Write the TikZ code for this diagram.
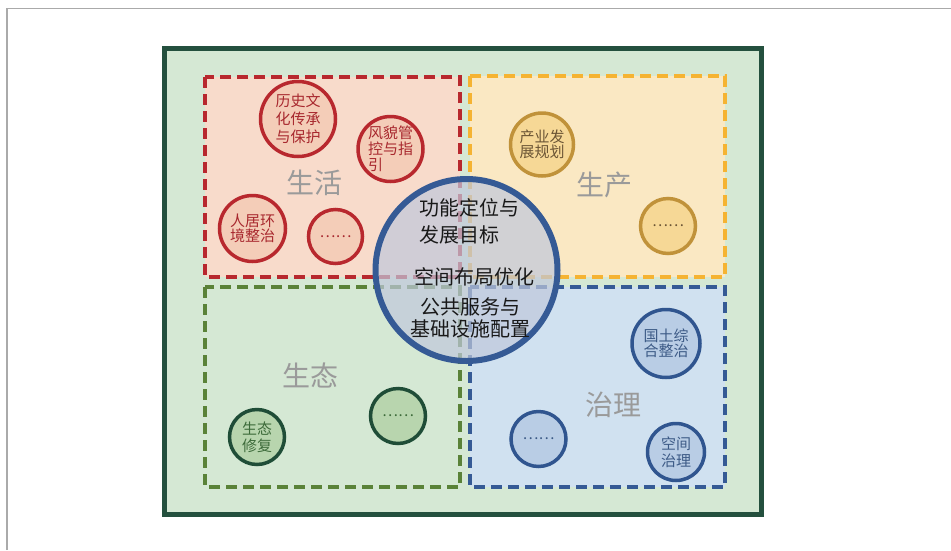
\documentclass[tikz,border=0pt]{standalone}
\usepackage{fontspec}
\setmainfont{Noto Sans CJK SC}
\definecolor{framegray}{HTML}{AAAAAA}
\definecolor{outerG}{HTML}{24503E}
\definecolor{bgG}{HTML}{D5E8D4}
\definecolor{redL}{HTML}{B8282E}
\definecolor{redF}{HTML}{F8DBCB}
\definecolor{redC}{HTML}{F4CDB8}
\definecolor{redT}{HTML}{A8282E}
\definecolor{orL}{HTML}{F5B332}
\definecolor{orF}{HTML}{FAE8C3}
\definecolor{orC}{HTML}{F6D896}
\definecolor{orS}{HTML}{C0923A}
\definecolor{orT}{HTML}{6B5535}
\definecolor{grL}{HTML}{5A8238}
\definecolor{grC}{HTML}{B8D5AE}
\definecolor{grS}{HTML}{1F4D37}
\definecolor{grT}{HTML}{3D6B3A}
\definecolor{blL}{HTML}{355A95}
\definecolor{blF}{HTML}{D0E1F0}
\definecolor{blC}{HTML}{B9CDE5}
\definecolor{blS}{HTML}{30558F}
\definecolor{blT}{HTML}{3C5A86}
\definecolor{coreF}{HTML}{C0C8DC}
\definecolor{labG}{HTML}{9A9A9A}
\begin{document}
\begin{tikzpicture}[x=1pt,y=-1pt,
  zone/.style={line width=4.2pt, dash pattern=on 11pt off 6pt},
  item/.style={circle, inner sep=0pt, line width=3.5pt, align=center,
    font=\fontsize{15}{16}\selectfont},
  reditem/.style={item, draw=redL, fill=redC, text=redT},
  oritem/.style={item, draw=orS, fill=orC, text=orT},
  gritem/.style={item, draw=grS, fill=grC, text=grT},
  blitem/.style={item, draw=blS, fill=blC, text=blT},
  zonelabel/.style={text=labG, font=\fontsize{28}{30}\selectfont, inner sep=0pt},
  coretext/.style={text=black!90, inner sep=0pt, font=\fontsize{20}{22}\selectfont}]
\useasboundingbox (0,0) rectangle (951,550);
\fill[white] (0,0) rectangle (951,550);
\draw[framegray, line width=1.2pt] (7,550) -- (7,8.5) -- (951,8.5);
% outer frame
\draw[line width=5pt, draw=outerG, fill=bgG] (164.8,48.5) rectangle (761,514.5);
% zones
\draw[zone, draw=redL, fill=redF] (205,77) rectangle (460,277);
\draw[zone, draw=orL, fill=orF] (470,76) rectangle (725,277);
\draw[zone, draw=grL, fill=bgG] (205,287) rectangle (460,487);
\draw[zone, draw=blL, fill=blF] (470,287) rectangle (725,487);
% zone labels
\node[zonelabel] (lsh) at (314,183) {生活};
\node[zonelabel] (lsc) at (604.5,185) {生产};
\node[zonelabel] (lst) at (310,375) {生态};
\node[zonelabel] (lzl) at (613,405) {治理};
% red items
\node[reditem, minimum size=75pt, font=\fontsize{15}{18}\selectfont] (hist) at (298,119) {历史文\\化传承\\与保护};
\node[reditem, minimum size=65pt, align=left] (fmg) at (390.5,149) {风貌管\\控与指\\引};
\node[reditem, minimum size=66pt, font=\fontsize{15}{15.5}\selectfont] (rjhj) at (252.5,228.5) {人居环\\境整治};
\node[reditem, minimum size=54pt] (rdots) at (335.5,236.5) {……};
% orange items
\node[oritem, minimum size=63pt, font=\fontsize{15}{15.5}\selectfont] (cyfz) at (542,144.5) {产业发\\展规划};
\node[oritem, minimum size=55pt] (odots) at (668,226) {……};
% green items
\node[gritem, minimum size=55pt, font=\fontsize{15}{17}\selectfont] (stxf) at (257,437) {生态\\修复};
\node[gritem, minimum size=55pt] (gdots) at (398,416) {……};
% blue items
\node[blitem, minimum size=68pt, font=\fontsize{15}{15.5}\selectfont] (gtzh) at (666,343.5) {国土综\\合整治};
\node[blitem, minimum size=57pt, font=\fontsize{15}{17}\selectfont] (kjzl) at (676,452) {空间\\治理};
\node[blitem, minimum size=55pt] (bdots) at (538.5,439) {……};
% core circle
\node[circle, inner sep=0pt, minimum size=182pt, line width=6pt, draw=blL,
      fill=coreF, fill opacity=0.7] (core) at (466.5,270) {};
\node[coretext, anchor=west, align=left, font=\fontsize{20}{27}\selectfont] (ctop) at (419,221.5) {功能定位与\\发展目标};
\node[coretext] (cmid) at (474,277) {空间布局优化};
\node[coretext, align=center] (cbot) at (470,318) {公共服务与\\基础设施配置};
\end{tikzpicture}
\end{document}
